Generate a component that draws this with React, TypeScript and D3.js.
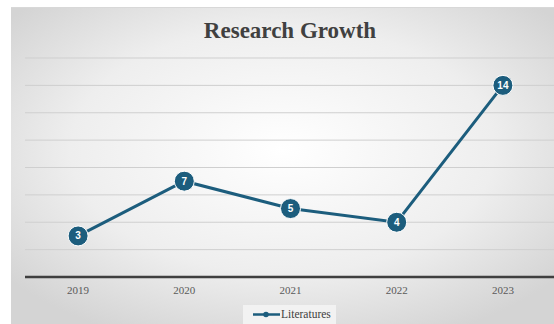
import React from "react";
import * as d3 from "d3";

const years = ["2019", "2020", "2021", "2022", "2023"];
const literatures = [3, 7, 5, 4, 14];
const yTicks = [2, 4, 6, 8, 10, 12, 14, 16];

export default function App() {
  const W = 554, H = 324;
  const x = d3.scaleBand<string>().domain(years).range([25, 556]);
  const y = d3.scaleLinear().domain([0, 16]).range([277, 58]);
  const line = d3
    .line<number>()
    .x((_, i) => (x(years[i]) as number) + x.bandwidth() / 2)
    .y((d) => y(d));
  const color = "#1c5d7d";
  return (
    <svg
      width={W}
      height={H}
      style={{ position: "absolute", left: 0, top: 0, display: "block" }}
    >
      <defs>
        <radialGradient id="bg" cx="50%" cy="45%" r="65%">
          <stop offset="0%" stopColor="#ffffff" />
          <stop offset="60%" stopColor="#eeeeee" />
          <stop offset="100%" stopColor="#d4d4d4" />
        </radialGradient>
      </defs>
      <rect x={0} y={0} width={W} height={H} fill="#ffffff" />
      <rect x={11} y={7} width={W - 11} height={H - 7} fill="url(#bg)" />
      <line x1={11} x2={W} y1={7.5} y2={7.5} stroke="#d8d8d8" />
      <text
        x={290}
        y={37.5}
        textAnchor="middle"
        fontFamily="Liberation Serif, Times New Roman, serif"
        fontWeight="bold"
        fontSize={23}
        fill="#404040"
      >
        Research Growth
      </text>
      {yTicks.map((t) => (
        <line
          key={t}
          x1={25}
          x2={W}
          y1={y(t)}
          y2={y(t)}
          stroke="#cfcfcf"
          strokeWidth={1}
        />
      ))}
      <line x1={25} x2={W} y1={y(0)} y2={y(0)} stroke="#3f3f3f" strokeWidth={2.5} />
      {years.map((yr) => (
        <text
          key={yr}
          x={(x(yr) as number) + x.bandwidth() / 2}
          y={294}
          textAnchor="middle"
          fontFamily="Liberation Serif, Times New Roman, serif"
          fontSize={11}
          fill="#595959"
        >
          {yr}
        </text>
      ))}
      <path d={line(literatures) || ""} fill="none" stroke={color} strokeWidth={3} />
      {literatures.map((v, i) => {
        const cx = (x(years[i]) as number) + x.bandwidth() / 2;
        const cy = y(v);
        return (
          <g key={i}>
            <circle cx={cx} cy={cy} r={10} fill={color} stroke="#ffffff" strokeWidth={1} />
            <text
              x={cx}
              y={cy + 3.5}
              textAnchor="middle"
              fontFamily="Liberation Sans, Arial, sans-serif"
              fontWeight="bold"
              fontSize={10}
              fill="#ffffff"
            >
              {v}
            </text>
          </g>
        );
      })}
      <rect x={243} y={305} width={93} height={19} fill="#f2f2f2" />
      <line x1={253} x2={280} y1={314.5} y2={314.5} stroke={color} strokeWidth={2.5} />
      <circle cx={266} cy={314.5} r={2.8} fill={color} />
      <text
        x={281}
        y={318}
        fontFamily="Liberation Serif, Times New Roman, serif"
        fontSize={11.5}
        fill="#404040"
      >
        Literatures
      </text>
    </svg>
  );
}
